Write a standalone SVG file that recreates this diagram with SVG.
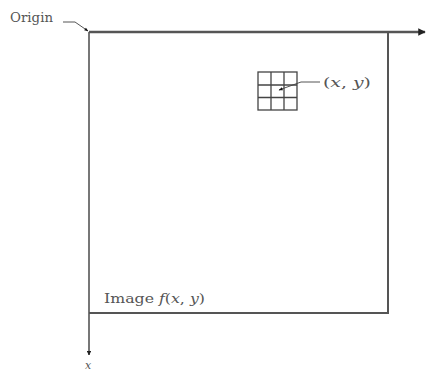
<svg xmlns="http://www.w3.org/2000/svg" width="427" height="372" viewBox="0 0 427 372">
<style>
.ln{stroke:#555;fill:none}
.lbl{font-family:"DejaVu Serif","Liberation Serif",serif;fill:#555}
.it{font-style:italic}
.grid{stroke:#444;stroke-width:1.3;fill:none}
</style>
<defs>
<marker id="ah" viewBox="0 0 10 10" refX="9" refY="5" markerWidth="3" markerHeight="3" orient="auto"><path d="M0,0 L10,5 L0,10 z" fill="#222"/></marker>
<marker id="sm" viewBox="0 0 10 10" refX="9" refY="5" markerWidth="5" markerHeight="4" orient="auto"><path d="M0,1 L10,5 L0,9 z" fill="#111"/></marker>
</defs>
<rect width="427" height="372" fill="#fff"/>
<g id="connectors">
<line class="ln" x1="89" y1="32" x2="425" y2="32" stroke-width="2.5" marker-end="url(#ah)"/>
<line class="ln" x1="89" y1="32" x2="89" y2="355" stroke-width="1.6" marker-end="url(#ah)"/>
<polyline class="ln" points="63,22 75,22 88,31" stroke-width="1" stroke="#333" marker-end="url(#sm)"/>
<polyline class="ln" points="320,82 301,82 279,90" stroke-width="1" stroke="#333" marker-end="url(#sm)"/>
</g>
<g id="image-box">
<polyline class="ln" points="388,32 388,313 89,313" stroke-width="2"/>
<text class="lbl" x="104" y="303" font-size="13.5" textLength="101" lengthAdjust="spacingAndGlyphs">Image <tspan class="it">f</tspan>(<tspan class="it">x</tspan>, <tspan class="it">y</tspan>)</text>
</g>
<g id="grid">
<rect class="grid" x="258" y="72" width="39" height="38"/>
<line class="grid" x1="271" y1="72" x2="271" y2="110"/>
<line class="grid" x1="284" y1="72" x2="284" y2="110"/>
<line class="grid" x1="258" y1="85" x2="297" y2="85"/>
<line class="grid" x1="258" y1="97.5" x2="297" y2="97.5"/>
</g>
<g id="origin">
<text class="lbl" x="10" y="22" font-size="13.5" textLength="43" lengthAdjust="spacingAndGlyphs">Origin</text>
</g>
<g id="xy-label">
<text class="lbl" x="323" y="87" font-size="13.5" textLength="48" lengthAdjust="spacingAndGlyphs">(<tspan class="it">x</tspan>, <tspan class="it">y</tspan>)</text>
</g>
<g id="x-axis-label">
<text class="lbl it" x="85" y="369" font-size="11">x</text>
</g>
</svg>
